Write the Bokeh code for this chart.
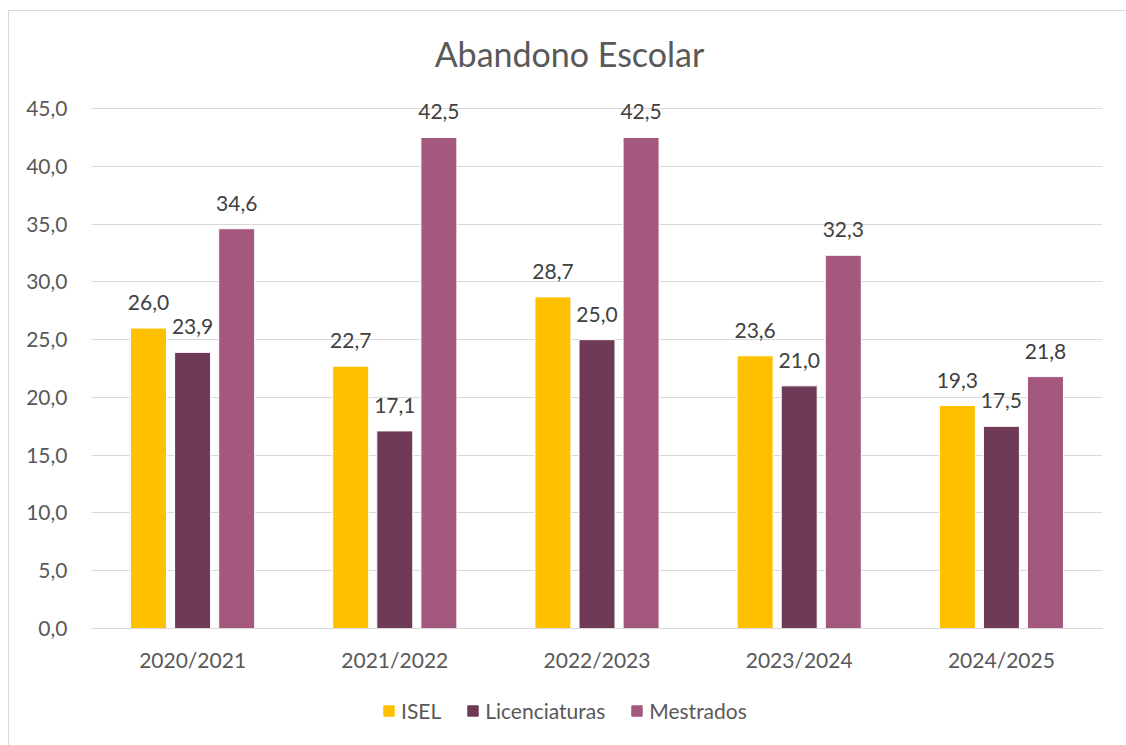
from bokeh.plotting import figure
from bokeh.layouts import column
from bokeh.models import ColumnDataSource, FactorRange, Range1d, FixedTicker, LabelSet, Label, Legend, LegendItem
from bokeh.core.properties import value
from bokeh.transform import dodge
from bokeh.embed import file_html
from bokeh.resources import INLINE

title_text = "Abandono Escolar"
categories = ["2020/2021", "2021/2022", "2022/2023", "2023/2024", "2024/2025"]
series_names = ["ISEL", "Licenciaturas", "Mestrados"]
isel = [26.0, 22.7, 28.7, 23.6, 19.3]
licenciaturas = [23.9, 17.1, 25.0, 21.0, 17.5]
mestrados = [34.6, 42.5, 42.5, 32.3, 21.8]
colors = ["#FFC000", "#6E3A55", "#A5587D"]
y_ticks = [0, 5, 10, 15, 20, 25, 30, 35, 40, 45]

FONT = "Lato"

def fmt(v):
    return f"{v:.1f}".replace(".", ",")

# frame spans the full height above the axis; extra headroom holds the title
p = figure(
    x_range=FactorRange(*categories), y_range=Range1d(0, 53.4),
    width=1117, height=680, output_backend="svg", toolbar_location=None,
    min_border_left=82, min_border_right=24, min_border_top=0, min_border_bottom=63,
)
p.outline_line_color = None
p.background_fill_color = "white"
p.border_fill_color = "white"

p.add_layout(Label(x=478, y=575, x_units="screen", y_units="screen", text=title_text,
                   text_align="center", text_baseline="alphabetic",
                   text_font=FONT, text_font_size="34px", text_color="#595959"))

offsets = [-0.218, 0.0, 0.218]
values = [isel, licenciaturas, mestrados]
sources = []
for name, vals, col, off in zip(series_names, values, colors, offsets):
    src = ColumnDataSource(dict(cat=categories, v=vals, lab=[fmt(v) for v in vals]))
    sources.append(src)
    p.vbar(x=dodge("cat", off, range=p.x_range), top="v", width=0.178, source=src,
           fill_color=col, line_color="white", line_width=1)
    ls = LabelSet(x=dodge("cat", off, range=p.x_range), y="v", text="lab", source=src,
                  text_align="center", text_baseline="bottom", y_offset=18,
                  text_font=value(FONT), text_font_size=value("21px"), text_color=value("#404040"))
    p.add_layout(ls)

p.ygrid.grid_line_color = "#D9D9D9"
p.ygrid.grid_line_width = 1
p.xgrid.grid_line_color = None

p.yaxis.ticker = FixedTicker(ticks=y_ticks)
p.yaxis.major_label_overrides = {t: fmt(t) for t in y_ticks}
p.yaxis.axis_line_color = None
p.yaxis.major_tick_line_color = None
p.yaxis.minor_tick_line_color = None
p.yaxis.major_label_standoff = 18
p.yaxis.major_label_text_font = FONT
p.yaxis.major_label_text_font_size = "21px"
p.yaxis.major_label_text_color = "#595959"

p.xaxis.axis_line_color = "#D9D9D9"
p.xaxis.major_tick_line_color = None
p.xaxis.minor_tick_line_color = None
p.xaxis.major_label_standoff = 12
p.xaxis.major_label_text_font = FONT
p.xaxis.major_label_text_font_size = "21px"
p.xaxis.major_label_text_color = "#595959"

# Legend strip (second figure, same series, bars kept out of view)
p2 = figure(
    x_range=FactorRange(*categories), y_range=Range1d(1000, 1001),
    width=1117, height=54, output_backend="svg", toolbar_location=None,
    x_axis_location=None, y_axis_location=None,
    min_border_left=0, min_border_right=0, min_border_top=0, min_border_bottom=0,
)
p2.outline_line_color = None
p2.grid.grid_line_color = None
items = []
for name, src, col in zip(series_names, sources, colors):
    r = p2.vbar(x="cat", top="v", width=0.178, source=src, fill_color=col, line_color=col)
    items.append(LegendItem(label=name, renderers=[r]))
legend = Legend(items=items, orientation="horizontal", location=(291, 22),
                border_line_color=None, background_fill_alpha=0,
                label_text_font=FONT, label_text_font_size="21px", label_text_color="#595959",
                glyph_width=13, glyph_height=13, label_standoff=6, spacing=25,
                padding=4, margin=0)
p2.add_layout(legend, "center")

layout = column(p, p2, spacing=0)
layout.styles = {"border-top": "1px solid #D9D9D9", "border-left": "1px solid #D9D9D9",
                 "margin-left": "8px", "margin-top": "10px"}

open("out.html", "w").write(file_html(layout, INLINE))
